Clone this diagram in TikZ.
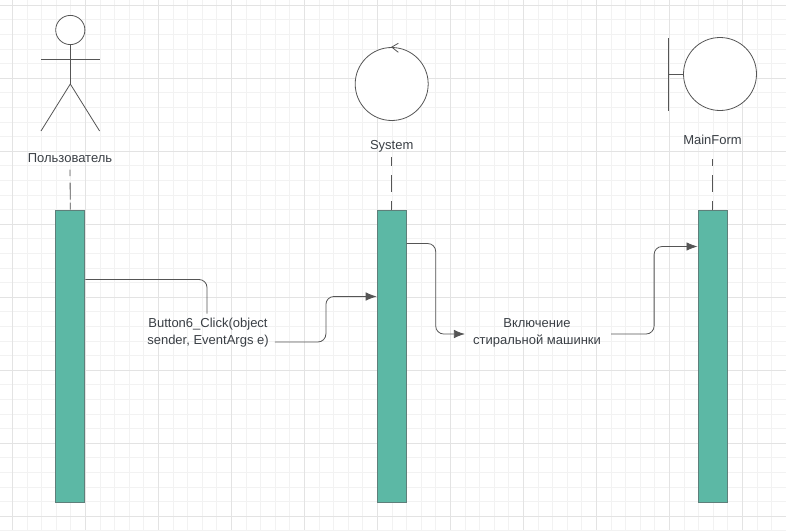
\documentclass[tikz,border=0pt]{standalone}
\usepackage{fontspec}
\setmainfont{Liberation Sans}
\usetikzlibrary{arrows.meta}
\definecolor{barfill}{HTML}{5CB8A5}
\definecolor{barline}{HTML}{5E7F7A}
\definecolor{inkline}{HTML}{555555}
\definecolor{inktext}{HTML}{3A3F45}
\begin{document}
\begin{tikzpicture}[x=1pt, y=-1pt]
    % Define styles
    \tikzset{
        gridminor/.style={
            draw=black!5,
            line width=1pt
        },
        gridmajor/.style={
            draw=black!11,
            line width=1pt
        },
        lifebar/.style={
            draw=barline,
            fill=barfill,
            line width=1pt,
            minimum width=29pt,
            minimum height=292pt,
            inner sep=0pt
        },
        shapeline/.style={
            draw=inkline,
            line width=0.8pt
        },
        lifeline/.style={
            draw=inkline,
            line width=0.8pt,
            dash pattern=on 9pt off 9pt on 17pt off 9pt
        },
        msgline/.style={
            draw=inkline,
            line width=0.8pt,
            rounded corners=8pt
        },
        msgarrow/.style={
            msgline,
            -{Latex[length=11pt,width=8.5pt]}
        },
        label/.style={
            font=\fontsize{13pt}{17pt}\selectfont,
            text=inktext,
            align=center,
            inner sep=0pt
        }
    }
    \useasboundingbox (0,0) rectangle (786,530);
    \fill[white] (0,0) rectangle (786,530);

    % Grid
    \foreach \i in {0,...,54}
        \draw[gridminor] ({-2.1+14.6*\i},0) -- ({-2.1+14.6*\i},530);
    \foreach \i in {0,...,37}
        \draw[gridminor] (0,{-9.3+14.6*\i}) -- (786,{-9.3+14.6*\i});
    \foreach \i in {0,...,10}
        \draw[gridmajor] ({12.5+73*\i},0) -- ({12.5+73*\i},530);
    \foreach \i in {0,...,7}
        \draw[gridmajor] (0,{5.3+73*\i}) -- (786,{5.3+73*\i});

    % Activation bars
    \node[lifebar] (barUser) at (70.3,356) {};
    \node[lifebar] (barSystem) at (391.7,356) {};
    \node[lifebar] (barForm) at (712.5,356) {};

    % Actor
    \node[shapeline, circle, fill=white, minimum size=29.2pt, inner sep=0pt] (head) at (70.3,30) {};
    \coordinate (hip) at (70.3,84);
    \coordinate (armL) at (41,59);
    \coordinate (armR) at (99.6,59);
    \coordinate (legL) at (41,131);
    \coordinate (legR) at (99.6,131);
    \draw[shapeline] (head) -- (hip);
    \draw[shapeline] (armL) -- (armR);
    \draw[shapeline] (legL) -- (hip) -- (legR);

    % Control
    \node[shapeline, circle, fill=white, minimum size=73pt, inner sep=0pt] (control) at (391.7,84) {};
    \draw[shapeline] (398.3,43.3) -- (control.north) -- (398.3,52.3);

    % Boundary
    \node[shapeline, circle, fill=white, minimum size=73pt, inner sep=0pt] (boundary) at (720,74) {};
    \coordinate (wallTop) at (668.7,38);
    \coordinate (wallBot) at (668.7,110.5);
    \draw[shapeline, line width=1.2pt] (wallTop) -- (wallBot);
    \draw[shapeline] (boundary.west) -- (boundary.west -| wallTop);

    % Labels
    \node[label] (nameUser) at (70,158) {Пользователь};
    \node[label] (nameSystem) at (391.7,146) {System};
    \node[label] (nameForm) at (712.5,140) {MainForm};
    \node[label] (msgClick) at (208,332.5) {Button6\_Click(object\\sender, EventArgs e)};
    \node[label] (msgWash) at (537,332.5) {Включение\\стиральной машинки};

    % Lifelines
    \draw[lifeline, dash pattern=on 7pt off 3pt on 17pt off 6.5pt on 8pt off 9pt] (barUser.north) -- ([yshift=-7pt]nameUser.south);
    \draw[lifeline] (barSystem.north) -- ([yshift=-5pt]nameSystem.south);
    \draw[lifeline] (barForm.north) -- ([yshift=-14pt]nameForm.south);

    % Messages
    \draw[msgline] ([yshift=-70pt]barUser.north east) -| ([xshift=-1pt,yshift=4pt]msgClick.north);
    \draw[msgarrow] ([xshift=6pt,yshift=-9.5pt]msgClick.east) -- ++(51,0) |- ([yshift=-87pt]barSystem.north west);
    \draw[msgarrow] ([yshift=-34pt]barSystem.north east) -- ++(29,0) |- ([xshift=-8pt,yshift=-1.5pt]msgWash.west);
    \draw[msgarrow] ([xshift=10pt,yshift=-1.5pt]msgWash.east) -- ++(43,0) |- ([yshift=-37pt]barForm.north west);
\end{tikzpicture}
\end{document}
